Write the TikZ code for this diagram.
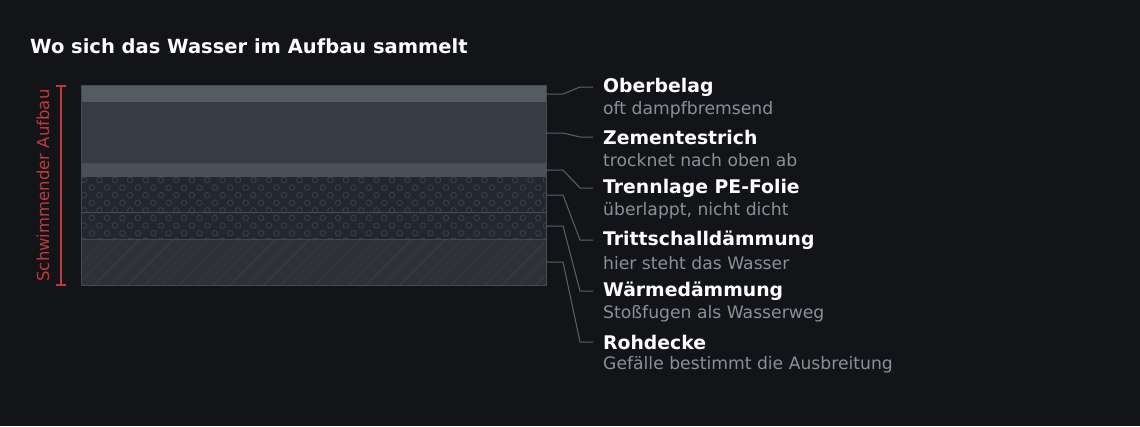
\documentclass[tikz,border=0pt]{standalone}
\usepackage{fontspec}
\setmainfont{DejaVu Sans}
\begin{document}
\begin{tikzpicture}[x=1pt,y=-1pt,
  lead/.style={draw=leadc,line width=1pt},
  ttl/.style={anchor=west,text=white,font=\bfseries\fontsize{18.8}{21}\selectfont,inner sep=0},
  sub/.style={anchor=west,text=subc,font=\fontsize{17.2}{20}\selectfont,inner sep=0}]
\definecolor{bg}{HTML}{131418}
\definecolor{leadc}{HTML}{5C6168}
\definecolor{subc}{HTML}{8A9099}
\definecolor{redc}{HTML}{C0393B}
\fill[bg] (0,0) rectangle (1140,426);
\useasboundingbox (0,0) rectangle (1140,426);
\node[anchor=west,text=white,font=\bfseries\fontsize{19.5}{22}\selectfont,inner sep=0] (hdr) at (30,46) {Wo sich das Wasser im Aufbau sammelt};
% layers
\fill[fill={rgb,255:red,84;green,91;blue,97}] (81,85) rectangle (546,102);
\fill[fill={rgb,255:red,54;green,60;blue,67}] (81,102) rectangle (546,163);
\fill[fill={rgb,255:red,74;green,80;blue,88}] (81,163) rectangle (546,177);
\fill[fill={rgb,255:red,35;green,40;blue,48}] (81,177) rectangle (546,239);
\begin{scope}
\clip (81,177) rectangle (546,239);
\foreach \r in {0,...,8}{
  \pgfmathsetmacro{\yy}{180+\r*7.6}
  \pgfmathsetmacro{\off}{mod(\r,2)*7.7}
  \foreach \c in {0,...,31}{
    \draw[draw={rgb,255:red,62;green,68;blue,78},line width=0.7pt] (84+\off+\c*15.4,\yy) circle (2.8);
  }}
\end{scope}
\draw[draw={rgb,255:red,70;green,76;blue,86},line width=1pt] (81,212) -- (546,212);
\fill[fill={rgb,255:red,46;green,50;blue,56}] (81,239) rectangle (546,285);
\begin{scope}
\clip (81,239) rectangle (546,285);
\foreach \i in {0,...,30}{
  \draw[draw={rgb,255:red,60;green,64;blue,70},line width=0.6pt] (60+\i*17,285) -- (106+\i*17,239);
}
\end{scope}
\draw[draw={rgb,255:red,66;green,70;blue,77},line width=0.8pt] (81,239) -- (546,239);
\draw[draw={rgb,255:red,70;green,75;blue,82},line width=1pt] (81,85) rectangle (546,285);
% bracket
\draw[redc,line width=1.6pt] (61,86) -- (61,285) (56,86) -- (66,86) (56,285) -- (66,285);
\node[rotate=90,text=redc,font=\fontsize{16.5}{19}\selectfont,inner sep=0] (brk) at (43,185.5) {Schwimmender Aufbau};
% labels
\foreach \n/\t/\s/\y in {a/Oberbelag/oft dampfbremsend/87, b/Zementestrich/trocknet nach oben ab/137, c/Trennlage PE-Folie/überlappt{,} nicht dicht/188, d/Trittschalldämmung/hier steht das Wasser/240, e/Wärmedämmung/Stoßfugen als Wasserweg/291, f/Rohdecke/Gefälle bestimmt die Ausbreitung/342}{
  \node[ttl] (t\n) at (603,\y) {\t};
  \node[sub] (s\n) at (603,\y+23) {\s};
}
\foreach \n/\ya/\yb in {a/94/87, b/133/137, c/170/188, d/195/240, e/226/291, f/262/342}{
  \coordinate (p\n) at (546,\ya);
  \draw[lead] (p\n) -- (563,\ya) -- (580,\yb) -- ([xshift=-10pt]t\n.west);
}
\end{tikzpicture}
\end{document}
